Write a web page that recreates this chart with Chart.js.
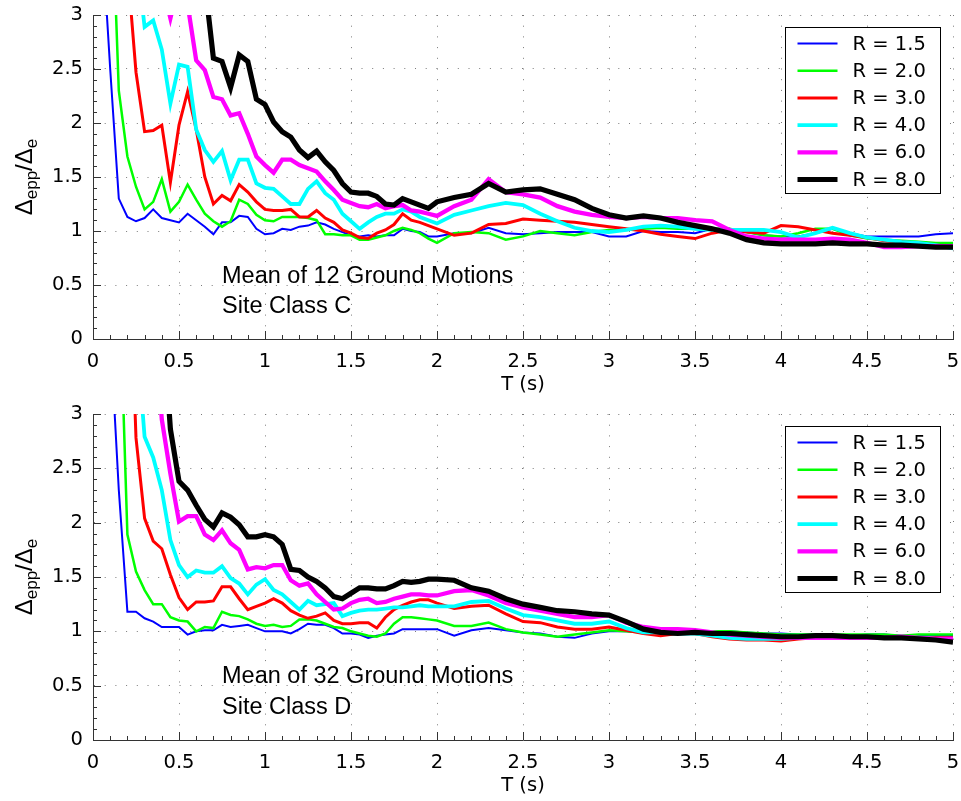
<!DOCTYPE html>
<html>
<head>
<meta charset="utf-8">
<script src="https://cdn.jsdelivr.net/npm/chart.js@4.4.1/dist/chart.umd.min.js"></script>
<style>
    html, body { margin: 0; padding: 0; background: #fff; }
    canvas { position: absolute; left: 0; }
    #site-c { top: 0; }
    #site-d { top: 400px; }
</style>
</head>
<body>
<canvas id="site-c" width="961" height="400"></canvas>
<canvas id="site-d" width="961" height="401"></canvas>
<script>
// periods T (s)
var periods = [
    0.05, 0.10, 0.15, 0.20, 0.25, 0.30, 0.35, 0.40, 0.45, 0.50,
    0.55, 0.60, 0.65, 0.70, 0.75, 0.80, 0.85, 0.90, 0.95, 1.00,
    1.05, 1.10, 1.15, 1.20, 1.25, 1.30, 1.35, 1.40, 1.45, 1.50,
    1.55, 1.60, 1.65, 1.70, 1.75, 1.80, 1.85, 1.90, 1.95, 2.00,
    2.1, 2.2, 2.3, 2.4, 2.5, 2.6, 2.7, 2.8, 2.9, 3.0,
    3.1, 3.2, 3.3, 3.4, 3.5, 3.6, 3.7, 3.8, 3.9, 4.0,
    4.1, 4.2, 4.3, 4.4, 4.5, 4.6, 4.7, 4.8, 4.9, 5.0
];

var rLabels = ['R = 1.5', 'R = 2.0', 'R = 3.0', 'R = 4.0', 'R = 6.0', 'R = 8.0'];

// Site Class C, mean of 12 ground motions
var siteC_R15 = [
    3.8, 2.5, 1.30, 1.13, 1.09, 1.12, 1.20, 1.12, 1.10, 1.08,
    1.16, 1.10, 1.04, 0.97, 1.08, 1.08, 1.14, 1.13, 1.02, 0.97,
    0.98, 1.02, 1.01, 1.04, 1.05, 1.08, 1.06, 1.02, 0.99, 0.96,
    0.95, 0.96, 0.95, 0.96, 0.96, 1.02, 1.00, 0.99, 0.95, 0.95,
    0.98, 0.98, 1.03, 0.98, 0.97, 0.98, 0.99, 0.99, 0.99, 0.95,
    0.95, 1.00, 0.99, 0.99, 0.98, 1.02, 1.02, 0.99, 0.96, 0.95,
    0.95, 0.98, 1.02, 0.98, 0.95, 0.95, 0.95, 0.95, 0.97, 0.98
];
var siteC_R20 = [
    6.0, 4.5, 2.30, 1.69, 1.41, 1.20, 1.27, 1.48, 1.18, 1.27,
    1.43, 1.29, 1.16, 1.09, 1.04, 1.09, 1.29, 1.25, 1.15, 1.10,
    1.09, 1.13, 1.13, 1.13, 1.12, 1.10, 0.97, 0.97, 0.96, 0.96,
    0.92, 0.92, 0.94, 0.96, 1.00, 1.03, 1.01, 0.98, 0.93, 0.89,
    0.98, 0.99, 0.98, 0.92, 0.95, 1.00, 0.98, 0.96, 0.99, 1.01,
    1.01, 1.02, 1.03, 1.02, 1.02, 1.02, 1.02, 0.99, 0.96, 0.95,
    0.98, 1.02, 1.02, 0.96, 0.93, 0.92, 0.91, 0.90, 0.89, 0.89
];
var siteC_R30 = [
    null, 6.0, 4.5, 3.45, 2.47, 1.92, 1.93, 1.98, 1.45, 1.98,
    2.29, 1.94, 1.50, 1.25, 1.33, 1.28, 1.43, 1.36, 1.27, 1.20,
    1.19, 1.19, 1.20, 1.13, 1.13, 1.19, 1.12, 1.08, 1.01, 0.98,
    0.94, 0.93, 0.98, 1.01, 1.06, 1.16, 1.10, 1.08, 1.05, 1.02,
    0.96, 0.98, 1.06, 1.07, 1.11, 1.10, 1.09, 1.08, 1.06, 1.04,
    1.02, 1.00, 0.97, 0.95, 0.93, 0.98, 1.01, 0.99, 0.98, 1.05,
    1.04, 1.01, 0.98, 0.96, 0.94, 0.91, 0.90, 0.89, 0.87, 0.85
];
var siteC_R40 = [
    null, null, 6.0, 4.5, 3.6, 2.89, 2.95, 2.68, 2.18, 2.54,
    2.52, 1.94, 1.75, 1.64, 1.74, 1.47, 1.66, 1.66, 1.44, 1.40,
    1.39, 1.32, 1.25, 1.25, 1.39, 1.46, 1.35, 1.29, 1.16, 1.09,
    1.02, 1.08, 1.13, 1.16, 1.16, 1.20, 1.18, 1.13, 1.10, 1.07,
    1.15, 1.19, 1.23, 1.26, 1.24, 1.16, 1.09, 1.03, 1.00, 0.99,
    1.01, 1.04, 1.05, 1.04, 1.02, 1.01, 1.01, 1.01, 1.01, 0.99,
    0.94, 0.98, 1.03, 0.98, 0.94, 0.92, 0.90, 0.89, 0.87, 0.84
];
var siteC_R60 = [
    null, null, null, null, 5.0, 4.2, 3.6, 3.3, 2.97, 3.3,
    3.1, 2.58, 2.49, 2.24, 2.22, 2.07, 2.09, 1.90, 1.69, 1.61,
    1.54, 1.66, 1.66, 1.61, 1.58, 1.55, 1.46, 1.38, 1.29, 1.26,
    1.23, 1.22, 1.25, 1.21, 1.23, 1.24, 1.19, 1.18, 1.16, 1.14,
    1.23, 1.29, 1.48, 1.36, 1.34, 1.31, 1.23, 1.18, 1.15, 1.13,
    1.12, 1.13, 1.12, 1.12, 1.10, 1.09, 1.01, 0.95, 0.93, 0.92,
    0.92, 0.92, 0.93, 0.92, 0.89, 0.85, 0.85, 0.86, 0.86, 0.86
];
var siteC_R80 = [
    null, null, null, null, null, null, null, null, null, 4.5,
    4.0, 3.6, 3.3, 2.60, 2.57, 2.33, 2.63, 2.57, 2.22, 2.17,
    2.01, 1.92, 1.87, 1.75, 1.68, 1.74, 1.64, 1.56, 1.44, 1.36,
    1.35, 1.35, 1.32, 1.25, 1.24, 1.30, 1.27, 1.24, 1.21, 1.27,
    1.31, 1.34, 1.44, 1.36, 1.38, 1.39, 1.34, 1.29, 1.21, 1.15,
    1.12, 1.14, 1.12, 1.08, 1.05, 1.02, 0.98, 0.92, 0.89, 0.88,
    0.88, 0.88, 0.89, 0.88, 0.88, 0.87, 0.87, 0.86, 0.85, 0.85
];

// Site Class D, mean of 32 ground motions
var siteD_R15 = [
    6.0, 3.76, 2.30, 1.18, 1.18, 1.12, 1.09, 1.04, 1.04, 1.04,
    0.97, 1.00, 1.01, 1.01, 1.06, 1.04, 1.05, 1.06, 1.03, 1.00,
    1.00, 1.00, 0.98, 1.02, 1.07, 1.06, 1.06, 1.03, 0.98, 0.98,
    0.97, 0.94, 0.96, 0.97, 0.98, 1.02, 1.02, 1.02, 1.02, 1.02,
    0.96, 1.01, 1.03, 1.01, 0.99, 0.98, 0.95, 0.94, 0.98, 1.00,
    1.00, 0.99, 0.99, 0.99, 0.99, 0.99, 1.00, 0.99, 0.98, 0.98,
    0.97, 0.97, 0.96, 0.96, 0.97, 0.97, 0.96, 0.96, 0.96, 0.96
];
var siteD_R20 = [
    8.0, 6.0, 4.4, 1.89, 1.55, 1.38, 1.25, 1.25, 1.13, 1.10,
    1.09, 1.00, 1.04, 1.03, 1.18, 1.15, 1.14, 1.11, 1.07, 1.05,
    1.06, 1.04, 1.05, 1.11, 1.11, 1.10, 1.07, 1.04, 1.03, 1.00,
    0.98, 0.96, 0.95, 0.98, 1.07, 1.13, 1.13, 1.12, 1.11, 1.10,
    1.05, 1.05, 1.08, 1.02, 0.99, 0.97, 0.95, 0.97, 0.99, 1.01,
    1.00, 0.99, 0.98, 0.98, 0.99, 1.00, 1.00, 0.99, 0.98, 0.97,
    0.97, 0.97, 0.97, 0.97, 0.97, 0.97, 0.96, 0.97, 0.97, 0.97
];
var siteD_R30 = [
    null, 8.0, 6.5, 5.0, 2.78, 2.04, 1.83, 1.76, 1.52, 1.31,
    1.20, 1.27, 1.27, 1.28, 1.41, 1.41, 1.30, 1.20, 1.23, 1.26,
    1.30, 1.26, 1.19, 1.15, 1.12, 1.14, 1.17, 1.10, 1.07, 1.07,
    1.08, 1.08, 1.03, 1.13, 1.20, 1.24, 1.27, 1.29, 1.29, 1.26,
    1.21, 1.23, 1.24, 1.16, 1.09, 1.08, 1.04, 1.02, 1.02, 1.04,
    1.01, 0.98, 0.96, 0.98, 0.98, 0.95, 0.93, 0.92, 0.92, 0.91,
    0.93, 0.94, 0.94, 0.94, 0.94, 0.94, 0.94, 0.94, 0.94, 0.94
];
var siteD_R40 = [
    null, null, 7.0, 5.0, 3.8, 2.79, 2.60, 2.30, 1.84, 1.61,
    1.50, 1.56, 1.54, 1.54, 1.60, 1.49, 1.44, 1.34, 1.43, 1.48,
    1.38, 1.34, 1.27, 1.20, 1.28, 1.24, 1.25, 1.26, 1.14, 1.17,
    1.19, 1.20, 1.20, 1.21, 1.22, 1.22, 1.23, 1.24, 1.23, 1.23,
    1.23, 1.27, 1.28, 1.21, 1.15, 1.13, 1.10, 1.07, 1.07, 1.09,
    1.03, 0.99, 0.99, 0.98, 0.98, 0.96, 0.94, 0.93, 0.93, 0.93,
    0.94, 0.94, 0.95, 0.95, 0.94, 0.94, 0.94, 0.94, 0.93, 0.93
];
var siteD_R60 = [
    null, null, null, 7.0, 5.5, 4.8, 4.0, 2.95, 2.45, 2.01,
    2.06, 2.06, 1.89, 1.84, 1.93, 1.81, 1.75, 1.57, 1.59, 1.58,
    1.61, 1.61, 1.47, 1.42, 1.44, 1.34, 1.27, 1.20, 1.21, 1.26,
    1.29, 1.30, 1.26, 1.27, 1.30, 1.32, 1.34, 1.34, 1.33, 1.33,
    1.37, 1.38, 1.33, 1.26, 1.22, 1.19, 1.16, 1.13, 1.13, 1.15,
    1.08, 1.04, 1.02, 1.02, 1.01, 0.99, 0.97, 0.96, 0.95, 0.94,
    0.94, 0.94, 0.94, 0.94, 0.94, 0.94, 0.95, 0.94, 0.93, 0.93
];
var siteD_R80 = [
    null, null, null, null, null, 7.0, 5.5, 4.0, 2.86, 2.38,
    2.30, 2.16, 2.03, 1.96, 2.09, 2.05, 1.98, 1.87, 1.87, 1.89,
    1.87, 1.80, 1.57, 1.56, 1.50, 1.46, 1.40, 1.32, 1.30, 1.35,
    1.40, 1.40, 1.39, 1.39, 1.42, 1.46, 1.45, 1.46, 1.48, 1.48,
    1.47, 1.40, 1.37, 1.30, 1.25, 1.22, 1.19, 1.18, 1.16, 1.15,
    1.09, 1.02, 0.99, 0.98, 0.99, 0.98, 0.98, 0.97, 0.96, 0.95,
    0.95, 0.96, 0.96, 0.95, 0.95, 0.94, 0.94, 0.93, 0.92, 0.90
];

var lineColors = ['#0000ff', '#00ff00', '#ff0000', '#00ffff', '#ff00ff', '#000000'];
var lineWidths = [2, 2.5, 3, 3.8, 4.3, 5.2];
var tickFont = { family: '"DejaVu Sans", sans-serif', size: 19.5 };

function toPoints(values) {
    return values.map(function (v, i) {
        return { x: periods[i], y: v };
    });
}

function plainNumber(value) {
    return String(Number(value.toFixed(1)));
}

// MATLAB-like extras: inward ticks, boxed legend, notes, y label with subscripts
var matlabAxes = {
    id: 'matlabAxes',
    afterDraw: function (chart, args, opts) {
        var ctx = chart.ctx;
        var area = chart.chartArea;
        var xs = chart.scales.x;
        var ys = chart.scales.y;
        var i, px, py, len;

        ctx.save();
        ctx.strokeStyle = '#333';
        ctx.lineWidth = 1;
        ctx.beginPath();
        for (i = 0; i <= 50; i++) {
            px = Math.round(xs.getPixelForValue(i / 10)) + 0.5;
            len = i % 5 === 0 ? 8 : 4;
            ctx.moveTo(px, area.bottom);
            ctx.lineTo(px, area.bottom - len);
        }
        for (i = 0; i <= 30; i++) {
            py = Math.round(ys.getPixelForValue(i / 10)) + 0.5;
            len = i % 5 === 0 ? 8 : 4;
            ctx.moveTo(area.left, py);
            ctx.lineTo(area.left + len, py);
        }
        ctx.stroke();

        // notes
        ctx.fillStyle = '#000';
        ctx.font = '23.5px "Liberation Sans", Arial, sans-serif';
        ctx.textAlign = 'left';
        ctx.textBaseline = 'alphabetic';
        opts.notes.forEach(function (note) {
            ctx.fillText(note.text, xs.getPixelForValue(note.x), ys.getPixelForValue(note.y));
        });

        // legend
        var bx = Math.round(area.right - 168) + 0.5;
        var by = Math.round(area.top + 12) + 0.5;
        ctx.fillStyle = '#fff';
        ctx.fillRect(bx, by, 155, 166);
        ctx.strokeStyle = '#000';
        ctx.lineWidth = 1;
        ctx.strokeRect(bx, by, 155, 166);
        ctx.font = '19.5px "DejaVu Sans", sans-serif';
        ctx.textBaseline = 'middle';
        chart.data.datasets.forEach(function (ds, k) {
            var rowY = by + 16 + k * 27.2;
            ctx.strokeStyle = ds.borderColor;
            ctx.lineWidth = ds.borderWidth;
            ctx.beginPath();
            ctx.moveTo(bx + 12, rowY);
            ctx.lineTo(bx + 52, rowY);
            ctx.stroke();
            ctx.fillStyle = '#000';
            ctx.fillText(ds.label, bx + 67, rowY + 1);
        });

        // y label: Delta_epp / Delta_e
        var mainFont = '24px "Liberation Sans", Arial, sans-serif';
        var subFont = '17px "Liberation Sans", Arial, sans-serif';
        var parts = [['\u0394', mainFont, 0], ['epp', subFont, 5], ['/\u0394', mainFont, 0], ['e', subFont, 5]];
        var total = 0;
        parts.forEach(function (p) {
            ctx.font = p[1];
            total += ctx.measureText(p[0]).width;
        });
        ctx.translate(32, (area.top + area.bottom) / 2);
        ctx.rotate(-Math.PI / 2);
        ctx.textBaseline = 'alphabetic';
        ctx.fillStyle = '#000';
        var cx = -total / 2;
        parts.forEach(function (p) {
            ctx.font = p[1];
            ctx.fillText(p[0], cx, p[2]);
            cx += ctx.measureText(p[0]).width;
        });
        ctx.restore();
    }
};

function renderPanel(canvasId, series, notes, topPad) {
    var canvas = document.getElementById(canvasId);
    return new Chart(canvas, {
        type: 'line',
        data: {
            datasets: series.map(function (values, k) {
                return {
                    label: rLabels[k],
                    data: toPoints(values),
                    borderColor: lineColors[k],
                    borderWidth: lineWidths[k],
                    pointRadius: 0,
                    tension: 0,
                    fill: false,
                    clip: 0,
                    order: series.length - k
                };
            })
        },
        options: {
            responsive: false,
            animation: false,
            devicePixelRatio: 1,
            layout: {
                padding: { top: topPad, right: 8, left: 0, bottom: 0 }
            },
            scales: {
                x: {
                    type: 'linear',
                    min: 0,
                    max: 5,
                    ticks: { stepSize: 0.5, padding: 11, color: '#000', font: tickFont, maxRotation: 0, callback: plainNumber },
                    grid: { color: '#7a7a7a', lineWidth: 1, drawTicks: false },
                    border: { color: '#333', width: 1, dash: [1, 9.7] },
                    title: {
                        display: true,
                        text: 'T (s)',
                        color: '#000',
                        font: tickFont,
                        padding: { top: 0, bottom: 3 }
                    },
                    afterFit: function (scale) {
                        scale.height = 61;
                        scale.paddingLeft = 0;
                        scale.paddingRight = 0;
                    }
                },
                y: {
                    min: 0,
                    max: 3,
                    ticks: { stepSize: 0.5, padding: 10, color: '#000', font: tickFont, callback: plainNumber },
                    grid: { color: '#7a7a7a', lineWidth: 1, drawTicks: false },
                    border: { color: '#333', width: 1, dash: [1, 9.7] },
                    afterFit: function (scale) {
                        scale.width = 93;
                        scale.paddingTop = 0;
                        scale.paddingBottom = 0;
                    }
                }
            },
            plugins: {
                legend: { display: false },
                tooltip: { enabled: false },
                matlabAxes: { notes: notes }
            }
        },
        plugins: [matlabAxes]
    });
}

renderPanel('site-c',
    [siteC_R15, siteC_R20, siteC_R30, siteC_R40, siteC_R60, siteC_R80],
    [{ text: 'Mean of 12 Ground Motions', x: 0.75, y: 0.52 }, { text: 'Site Class C', x: 0.75, y: 0.24 }],
    15);

renderPanel('site-d',
    [siteD_R15, siteD_R20, siteD_R30, siteD_R40, siteD_R60, siteD_R80],
    [{ text: 'Mean of 32 Ground Motions', x: 0.75, y: 0.52 }, { text: 'Site Class D', x: 0.75, y: 0.24 }],
    14);
</script>
</body>
</html>
